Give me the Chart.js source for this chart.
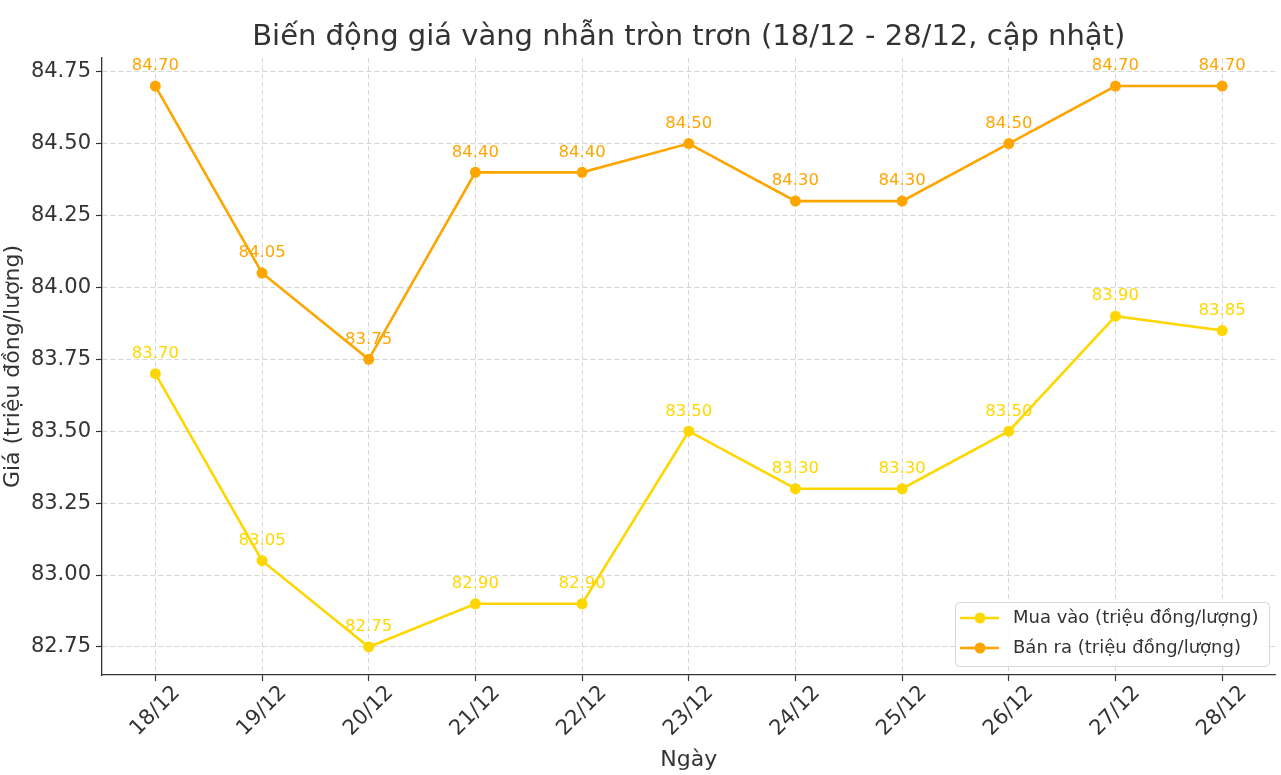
<!DOCTYPE html>
<html>
<head>
<meta charset="utf-8">
<script src="https://cdn.jsdelivr.net/npm/chart.js@4"></script>
<style>
  body { margin:0; background:#fff; }
  #wrap { width:1281px; height:775px; }
</style>
</head>
<body>
<div id="wrap"><canvas id="goldChart" width="1281" height="775"></canvas></div>
<script>
const days = ['18/12','19/12','20/12','21/12','22/12','23/12','24/12','25/12','26/12','27/12','28/12'];
const buyPrices = [83.70, 83.05, 82.75, 82.90, 82.90, 83.50, 83.30, 83.30, 83.50, 83.90, 83.85];
const sellPrices = [84.70, 84.05, 83.75, 84.40, 84.40, 84.50, 84.30, 84.30, 84.50, 84.70, 84.70];
const yTicks = [82.75, 83.00, 83.25, 83.50, 83.75, 84.00, 84.25, 84.50, 84.75];

const TITLE = 'Biến động giá vàng nhẫn tròn trơn (18/12 - 28/12, cập nhật)';
const FONT = "'DejaVu Sans', sans-serif";
const COLORS = { buy:'#FFD700', sell:'#FFA500', text:'#333333', grid:'#cccccc' };

// title centred over plot area, value labels, x tick labels and legend box
const decor = {
  id:'decor',
  afterDatasetsDraw(chart){
    const ctx = chart.ctx;
    const area = chart.chartArea;
    ctx.save();
    // value labels
    ctx.font = '16.5px ' + FONT;
    ctx.textAlign = 'center';
    ctx.textBaseline = 'middle';
    chart.data.datasets.forEach((ds, i)=>{
      const meta = chart.getDatasetMeta(i);
      ctx.fillStyle = ds.borderColor;
      meta.data.forEach((pt, j)=>{
        ctx.fillText(ds.data[j].toFixed(2), pt.x, pt.y - 20);
      });
    });
    // title
    ctx.fillStyle = COLORS.text;
    ctx.font = '29px ' + FONT;
    ctx.fillText(TITLE, (area.left + area.right)/2, 37);
    // x tick labels, rotated 45 and centred on tick
    const xs = chart.scales.x;
    ctx.font = '21px ' + FONT;
    days.forEach((d, i)=>{
      const x = xs.getPixelForTick(i);
      ctx.save();
      ctx.translate(x, 711);
      ctx.rotate(-Math.PI/4);
      ctx.fillText(d, 0, 0);
      ctx.restore();
    });
    // legend
    const bx = 955, by = 602, bw = 314, bh = 64;
    ctx.fillStyle = 'rgba(255,255,255,0.85)';
    ctx.strokeStyle = '#d6d6d6';
    ctx.lineWidth = 1;
    ctx.beginPath();
    ctx.roundRect(bx + 0.5, by + 0.5, bw, bh, 4);
    ctx.fill();
    ctx.stroke();
    chart.data.datasets.forEach((ds, i)=>{
      const y = 618 + i*30;
      ctx.strokeStyle = ds.borderColor;
      ctx.lineWidth = 2.6;
      ctx.beginPath();
      ctx.moveTo(960, y);
      ctx.lineTo(999, y);
      ctx.stroke();
      ctx.fillStyle = ds.borderColor;
      ctx.beginPath();
      ctx.arc(980, y, 5.5, 0, Math.PI*2);
      ctx.fill();
      ctx.fillStyle = COLORS.text;
      ctx.font = '18px ' + FONT;
      ctx.textAlign = 'left';
      ctx.fillText(ds.label, 1013, y);
    });
    ctx.restore();
  }
};

const gridOpts = { color:COLORS.grid, lineWidth:0.8, drawTicks:true,
                   tickLength:6, tickColor:COLORS.text, tickBorderDash:[], tickWidth:1.2 };

new Chart(document.getElementById('goldChart'), {
  type:'line',
  data:{
    labels: days,
    datasets:[
      { label:'Mua vào (triệu đồng/lượng)', data:buyPrices, borderColor:COLORS.buy, backgroundColor:COLORS.buy,
        borderWidth:2.6, pointRadius:5.5, pointBorderWidth:0, pointBackgroundColor:COLORS.buy, tension:0 },
      { label:'Bán ra (triệu đồng/lượng)', data:sellPrices, borderColor:COLORS.sell, backgroundColor:COLORS.sell,
        borderWidth:2.6, pointRadius:5.5, pointBorderWidth:0, pointBackgroundColor:COLORS.sell, tension:0 }
    ]
  },
  options:{
    responsive:false,
    animation:false,
    layout:{ padding:{ top:58, right:2, left:0, bottom:0 } },
    plugins:{ legend:{ display:false }, title:{ display:false }, tooltip:{ enabled:false } },
    scales:{
      x:{
        type:'category',
        offset:true,
        grid:Object.assign({ offset:false }, gridOpts),
        border:{ display:true, color:COLORS.text, width:1.3, dash:[5,3] },
        ticks:{ display:false },
        title:{ display:true, text:'Ngày', color:COLORS.text, font:{ family:FONT, size:22 }, padding:{ top:0, bottom:2 } },
        afterFit(scale){ scale.height = 100; }
      },
      y:{
        min:82.6525,
        max:84.7975,
        afterBuildTicks(scale){ scale.ticks = yTicks.map(v=>({ value:v })); },
        grid:gridOpts,
        border:{ display:true, color:COLORS.text, width:1.3, dash:[5,3] },
        ticks:{ color:COLORS.text, font:{ family:FONT, size:21 }, padding:5,
                callback:(v)=>Number(v).toFixed(2) },
        title:{ display:true, text:'Giá (triệu đồng/lượng)', color:COLORS.text, font:{ family:FONT, size:22 }, padding:{ top:0, bottom:0 } },
        afterFit(scale){ scale.width = 102; }
      }
    }
  },
  plugins:[decor]
});
</script>
</body>
</html>
